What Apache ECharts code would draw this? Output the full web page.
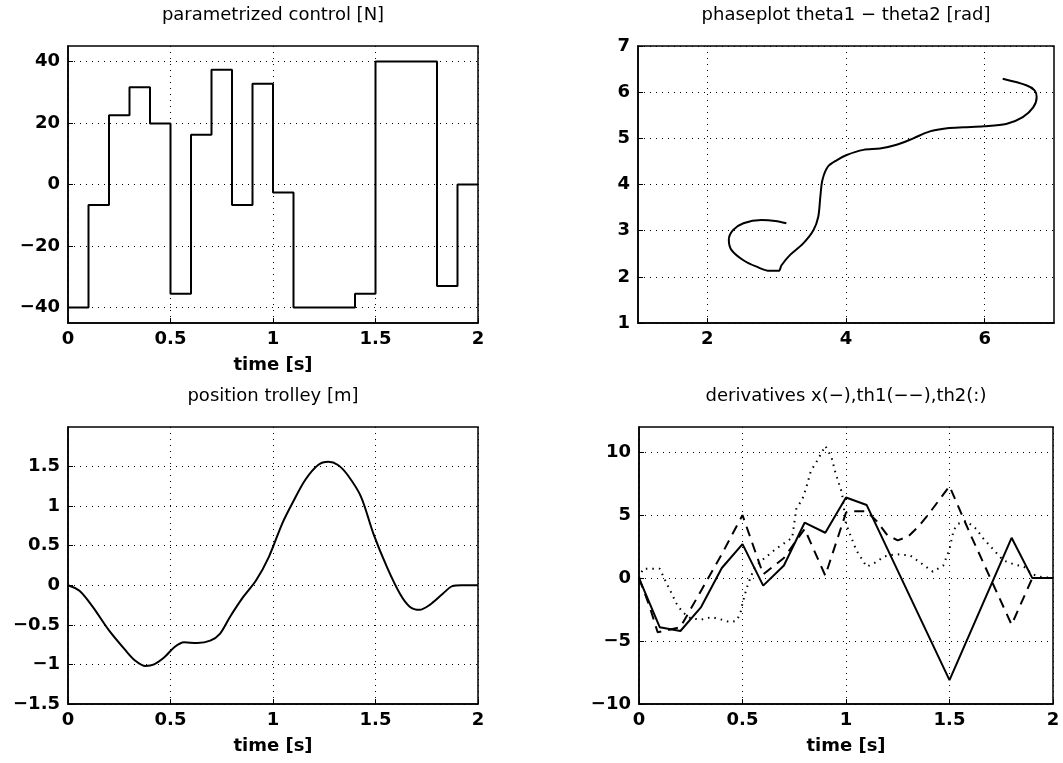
<!DOCTYPE html>
<html><head><meta charset="utf-8">
<script src="https://cdn.jsdelivr.net/npm/echarts@6/dist/echarts.min.js"></script>
<style>html,body{margin:0;padding:0;background:#fff}#c{width:1063px;height:763px}</style>
</head><body><div id="c"></div>
<script>
// ---- data ----
const ctrlT = [0,0.1,0.2,0.3,0.4,0.5,0.6,0.7,0.8,0.9,1.0,1.1,1.2,1.3,1.4,1.5,1.6,1.7,1.8,1.9,2.0];
const ctrlU = [-40,-6.7,22.5,31.6,19.8,-35.5,16.2,37.3,-6.7,32.7,-2.6,-40,-40,-40,-35.5,40,40,40,-33,0,0];

const phTh1 = [3.14,2.98,2.78,2.52,2.37,2.31,2.35,2.52,2.71,2.90,3.03,3.07,3.19,3.38,3.53,3.60,3.63,3.66,3.74,3.87,4.01,4.25,4.49,4.73,4.97,5.21,5.46,5.70,5.99,6.31,6.55,6.70,6.75,6.72,6.60,6.26];
const phTh2 = [3.16,3.21,3.23,3.16,3.01,2.80,2.58,2.36,2.22,2.13,2.13,2.25,2.47,2.72,3.01,3.30,3.74,4.10,4.39,4.53,4.64,4.75,4.78,4.86,5.00,5.15,5.22,5.24,5.26,5.31,5.46,5.67,5.89,6.04,6.15,6.29];

const posT = [0,0.056,0.12,0.2,0.28,0.327,0.378,0.42,0.47,0.52,0.566,0.63,0.694,0.742,0.79,0.854,0.917,0.98,1.045,1.093,1.157,1.22,1.27,1.317,1.365,1.429,1.49,1.556,1.62,1.667,1.715,1.763,1.827,1.875,1.92,2.0];
const posX = [0,-0.07,-0.27,-0.57,-0.82,-0.95,-1.02,-1.0,-0.91,-0.78,-0.72,-0.73,-0.70,-0.61,-0.40,-0.15,0.06,0.36,0.78,1.03,1.33,1.52,1.56,1.52,1.39,1.12,0.65,0.23,-0.11,-0.27,-0.31,-0.25,-0.11,-0.01,0,0];

const dxT = [0,0.1,0.2,0.3,0.4,0.5,0.6,0.7,0.8,0.9,1.0,1.1,1.5,1.8,1.9,2.0];
const dxV = [0,-3.9,-4.2,-2.3,0.8,2.7,-0.6,1.0,4.4,3.6,6.4,5.8,-8.1,3.2,0,0];

const dth1T = [0,0.05,0.09,0.12,0.2,0.3,0.4,0.5,0.6,0.7,0.8,0.9,1.0,1.03,1.1,1.15,1.2,1.25,1.3,1.35,1.4,1.45,1.5,1.6,1.7,1.8,1.9,2.0];
const dth1V = [0,-2.2,-4.3,-4.2,-3.9,-1.0,1.9,5.0,0.3,1.6,3.9,0.2,5.2,5.3,5.3,4.5,3.4,3.0,3.3,4.1,5.1,6.2,7.3,3.5,-0.1,-3.7,0,0];

const dth2T = [0,0.02,0.1,0.13,0.16,0.18,0.21,0.25,0.3,0.35,0.4,0.44,0.47,0.49,0.5,0.52,0.54,0.56,0.6,0.66,0.74,0.76,0.79,0.81,0.83,0.86,0.9,0.93,0.95,0.98,1.0,1.05,1.1,1.15,1.18,1.24,1.31,1.37,1.42,1.47,1.5,1.52,1.54,1.58,1.63,1.66,1.71,1.76,1.81,1.86,1.9,1.94,2.0];
const dth2V = [0,0.75,0.75,-0.3,-1.3,-2.0,-2.7,-3.2,-3.3,-3.1,-3.3,-3.5,-3.4,-2.8,-2.0,-0.8,0.1,0.9,1.5,2.3,3.2,5.5,6.3,7.3,8.5,9.3,10.5,9.6,8.3,6.8,4.3,2.2,0.9,1.3,1.7,1.9,1.8,1.1,0.5,1.0,2.3,3.8,4.3,4.55,3.9,3.2,2.3,1.4,1.1,0.9,0.3,0.1,0];

const titles = ['parametrized control [N]','phaseplot theta1 \u2212 theta2 [rad]','position trolley [m]','derivatives x(\u2212),th1(\u2212\u2212),th2(:)'];
const timeTicks = [0,0.5,1,1.5,2];
const ctrlTicks = [-40,-20,0,20,40];
const phXTicks = [2,4,6];
const phYTicks = [1,2,3,4,5,6,7];
const posTicks = [-1.5,-1,-0.5,0,0.5,1,1.5];
const derTicks = [-10,-5,0,5,10];

// ---- chart ----
const zip = (a,b) => a.map((v,i)=>[v,b[i]]);
const FONT = "'DejaVu Sans', 'Liberation Sans', Arial, sans-serif";
const fmt = v => String(v).replace('-', '\u2212');
const grids = [
  {left:68, top:46, width:410, height:277},
  {left:638, top:46, width:416, height:277},
  {left:68, top:427, width:410, height:277},
  {left:639, top:427, width:414, height:277}
];
function axis(type, gi, min, max, ticks, name){
  const a = {
    type:'value', gridIndex:gi, min:min, max:max,
    axisLine:{show:true, onZero:false, lineStyle:{color:'#000', width:1.5}},
    axisTick:{show:true, inside:true, length:5, lineStyle:{color:'#000'}, customValues:ticks},
    axisLabel:{show:true, color:'#000', fontFamily:FONT, fontSize:18, fontWeight:'bold', margin: type==='x'?7:8, formatter:fmt, customValues:ticks},
    splitLine:{show:true, lineStyle:{color:'#000', width:1, type:[1,5]}},
  };
  if (name) {
    a.name = name; a.nameLocation = 'middle'; a.nameGap = 33;
    a.nameTextStyle = {color:'#000', fontFamily:FONT, fontSize:18, fontWeight:'bold'};
  }
  return a;
}
const line = (xi, data, extra) => Object.assign({
  type:'line', xAxisIndex:xi, yAxisIndex:xi, data:data, symbol:'none', silent:true,
  lineStyle:{color:'#000', width:2}, animation:false
}, extra||{});

const option = {
  backgroundColor:'#fff',
  animation:false,
  grid: grids.map(g=>Object.assign({show:true, borderColor:'#000', borderWidth:1.5, backgroundColor:'transparent'}, g)),
  xAxis:[
    axis('x',0,0,2,timeTicks,'time [s]'),
    axis('x',1,1,7,phXTicks,null),
    axis('x',2,0,2,timeTicks,'time [s]'),
    axis('x',3,0,2,timeTicks,'time [s]')
  ],
  yAxis:[
    axis('y',0,-45,45,ctrlTicks,null),
    axis('y',1,1,7,phYTicks,null),
    axis('y',2,-1.5,2,posTicks,null),
    axis('y',3,-10,12,derTicks,null)
  ],
  graphic: titles.map((t,i)=>({
    type:'text',
    x: grids[i].left + grids[i].width/2,
    y: grids[i].top - 31,
    style:{text:t, fill:'#000', font:"18px " + FONT, textAlign:'center', textVerticalAlign:'middle'}
  })),
  series:[
    line(0, zip(ctrlT, ctrlU), {step:'end'}),
    line(1, zip(phTh1, phTh2), {smooth:0.3}),
    line(2, zip(posT, posX), {smooth:0.3}),
    line(3, zip(dxT, dxV)),
    line(3, zip(dth1T, dth1V), {lineStyle:{color:'#000', width:2, type:[10,7]}}),
    line(3, zip(dth2T, dth2V), {lineStyle:{color:'#000', width:2, type:[1.5,5]}})
  ]
};
const chart = echarts.init(document.getElementById('c'), null, {renderer:'canvas'});
chart.setOption(option);
</script>
</body></html>
